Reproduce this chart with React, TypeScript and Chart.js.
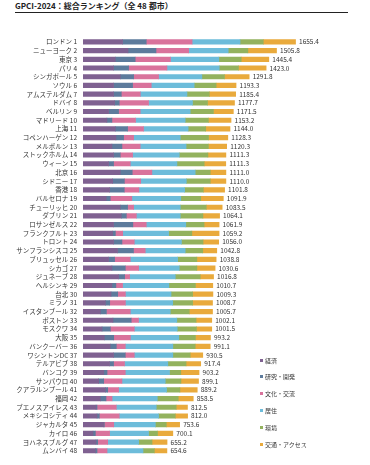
import React, { useEffect, useRef } from "react";
import { Chart, registerables } from "chart.js";

Chart.register(...registerables);

const cities = [
  "ロンドン", "ニューヨーク", "東京", "パリ", "シンガポール", "ソウル", "アムステルダム", "ドバイ",
  "ベルリン", "マドリード", "上海", "コペンハーゲン", "メルボルン", "ストックホルム", "ウィーン", "北京",
  "シドニー", "香港", "バルセロナ", "チューリッヒ", "ダブリン", "ロサンゼルス", "フランクフルト", "トロント",
  "サンフランシスコ", "ブリュッセル", "シカゴ", "ジュネーブ", "ヘルシンキ", "台北", "ミラノ", "イスタンブール",
  "ボストン", "モスクワ", "大阪", "バンクーバー", "ワシントンDC", "テルアビブ", "バンコク", "サンパウロ",
  "クアラルンプール", "福岡", "ブエノスアイレス", "メキシコシティ", "ジャカルタ", "カイロ", "ヨハネスブルグ", "ムンバイ",
];
const ranks = cities.map((_, i) => i + 1);

const totals = [
  1655.4, 1505.8, 1445.4, 1423.0, 1291.8, 1193.3, 1185.4, 1177.7, 1171.5, 1153.2, 1144.0, 1128.3,
  1120.3, 1111.3, 1111.3, 1111.0, 1110.0, 1101.8, 1091.9, 1083.5, 1064.1, 1061.9, 1059.2, 1056.0,
  1042.8, 1038.8, 1030.6, 1016.8, 1010.7, 1009.3, 1008.7, 1005.7, 1002.1, 1001.5, 993.2, 991.1,
  930.5, 917.4, 903.2, 899.1, 889.2, 858.5, 812.5, 812.0, 753.6, 700.1, 655.2, 654.6,
];

const economy = [308,350,251,238,290,238,238,246,199,186,251,256,225,238,199,290,231,207,181,290,298,238,231,238,269,199,225,277,225,218,174,135,233,148,166,212,238,207,161,122,174,135,101,109,161,78,101,96];
const research = [184,218,155,117,104,148,60,36,78,39,96,60,78,52,39,93,91,114,31,57,39,150,21,65,124,47,104,47,31,52,34,47,142,65,73,47,91,31,26,39,18,44,8,18,5,18,13,13];
const culture = [357,254,275,298,194,145,148,228,168,184,124,78,142,96,130,153,127,114,168,47,78,104,57,96,91,122,104,39,52,60,122,186,57,186,130,70,70,85,142,142,85,47,150,155,73,111,78,78];
const livability = [373,308,376,407,337,334,363,342,389,386,347,363,357,363,363,337,355,356,381,363,342,308,357,367,311,368,316,355,360,355,368,311,298,334,376,370,300,337,344,337,373,352,311,306,324,303,241,280];
const environment = [181,153,174,150,176,171,174,117,181,181,137,220,174,223,212,117,186,145,155,202,176,142,181,168,137,150,137,194,207,168,155,148,150,150,130,174,135,142,88,122,104,163,155,130,85,70,104,88];
const access = [251,223,215,215,192,155,205,210,155,176,189,150,142,140,168,122,122,166,176,124,130,117,212,122,109,150,142,104,135,158,155,181,122,119,117,117,98,114,142,137,135,117,88,96,104,119,117,98];

const seriesNames = ["経済", "研究・開発", "文化・交流", "居住", "環境", "交通・アクセス"];
const seriesColors = ["#7f6191", "#5d7b9c", "#d9739c", "#6dbcda", "#93b25e", "#e9aa3c"];
const seriesData = [economy, research, culture, livability, environment, access];

const FONT = "'Noto Sans CJK JP', 'Noto Sans', sans-serif";

export default function App() {
  const ref = useRef<HTMLCanvasElement | null>(null);

  useEffect(() => {
    if (!ref.current) return;
    const totalsPlugin = {
      id: "totals",
      afterDatasetsDraw(chart: any) {
        const ctx = chart.ctx;
        const meta = chart.getDatasetMeta(chart.data.datasets.length - 1);
        ctx.save();
        ctx.font = `6.5px ${FONT}`;
        ctx.fillStyle = "#333";
        ctx.textAlign = "left";
        ctx.textBaseline = "middle";
        meta.data.forEach((el: any, i: number) => {
          ctx.fillText(totals[i].toFixed(1), el.x + 3.5, el.y);
        });
        ctx.restore();
      },
    };
    const chart = new Chart(ref.current, {
      type: "bar",
      data: {
        labels: cities.map((c, i) => `${c} ${ranks[i]}`),
        datasets: seriesNames.map((n, k) => ({
          label: n,
          data: seriesData[k],
          backgroundColor: seriesColors[k],
          borderWidth: 0,
          barThickness: 4.5,
        })),
      },
      options: {
        indexAxis: "y",
        responsive: false,
        animation: false,
        layout: { padding: { top: 37.6, bottom: 3.9, left: 0, right: 30 } },
        plugins: { legend: { display: false }, tooltip: { enabled: false } },
        scales: {
          x: { stacked: true, display: false, min: 0, max: 2000 },
          y: {
            stacked: true,
            grid: { display: false, drawTicks: false },
            border: { display: false },
            ticks: { autoSkip: false, padding: 6, color: "#333", font: { size: 6.5, family: FONT } },
            afterFit: (scale: any) => {
              scale.width = 83;
            },
          },
        },
      },
      plugins: [totalsPlugin],
    } as any);
    return () => chart.destroy();
  }, []);

  return (
    <div style={{ position: "absolute", left: 0, top: 0, width: 370, height: 465, background: "#fff", fontFamily: FONT }}>
      <div style={{ position: "absolute", left: 15, top: 0, fontSize: 8, fontWeight: 700, color: "#222", whiteSpace: "nowrap", lineHeight: "11px" }}>
        GPCI-2024：総合ランキング（全 48 都市）
      </div>
      <div style={{ position: "absolute", left: 15, top: 12, width: 333, height: 1, background: "#222" }} />
      <canvas ref={ref} width={370} height={465} style={{ position: "absolute", left: 0, top: 0 }} />
      {seriesNames.map((n, k) => (
        <div key={n} style={{ position: "absolute", left: 260, top: 355 + k * 16.8, height: 10, display: "flex", alignItems: "center", fontSize: 6, color: "#333", whiteSpace: "nowrap" }}>
          <span style={{ display: "inline-block", width: 3, height: 3, background: seriesColors[k], marginRight: 2 }} />
          {n}
        </div>
      ))}
    </div>
  );
}
